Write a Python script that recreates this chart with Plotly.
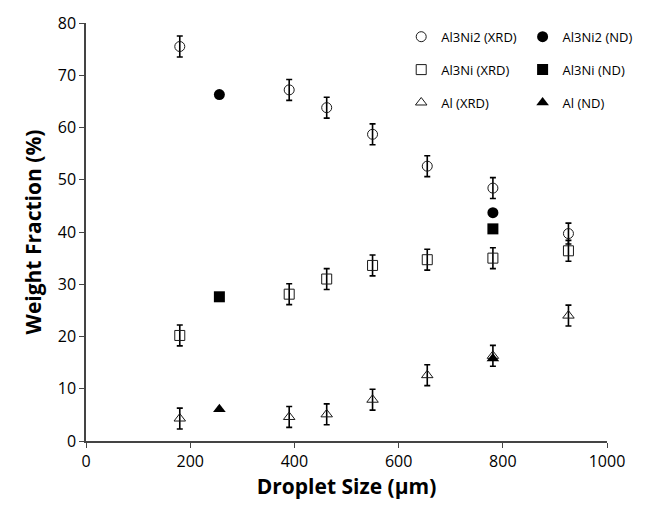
import plotly.graph_objects as go

# ---- data ----
size_xrd = [180, 390, 462, 550, 655, 781, 926]
al3ni2_xrd = [75.5, 67.2, 63.8, 58.7, 52.6, 48.4, 39.7]
al3ni_xrd = [20.2, 28.1, 31.0, 33.6, 34.7, 35.0, 36.4]
al_xrd = [4.3, 4.6, 5.1, 7.9, 12.6, 16.3, 24.0]
err_xrd = [2, 2, 2, 2, 2, 2, 2]

size_nd = [256, 781]
al3ni2_nd = [66.3, 43.7]
al3ni_nd = [27.6, 40.6]
al_nd = [6.1, 15.8]

x_ticks = [0, 200, 400, 600, 800, 1000]
y_ticks = [0, 10, 20, 30, 40, 50, 60, 70, 80]

FONT = "Open Sans"
INK = "#1a1a1a"

fig = go.Figure()

err_style = dict(type="data", visible=True, color="black", thickness=1.6, width=3)

xrd_series = [
    ("Al3Ni2 (XRD)", al3ni2_xrd, "circle-open", "g1"),
    ("Al3Ni (XRD)", al3ni_xrd, "square-open", "g2"),
    ("Al (XRD)", al_xrd, "triangle-up-open", "g3"),
]
nd_series = [
    ("Al3Ni2 (ND)", al3ni2_nd, "circle", "g4"),
    ("Al3Ni (ND)", al3ni_nd, "square", "g5"),
    ("Al (ND)", al_nd, "triangle-up", "g6"),
]

for name, vals, sym, grp in xrd_series:
    fig.add_trace(go.Scatter(
        x=size_xrd, y=vals, mode="markers", name=name, legendgroup=grp,
        legend="legend",
        marker=dict(symbol=sym, size=10, color=INK, line=dict(width=1, color=INK)),
        error_y=dict(array=err_xrd, **err_style),
    ))

for name, vals, sym, grp in nd_series:
    fig.add_trace(go.Scatter(
        x=size_nd, y=vals, mode="markers", name=name, legendgroup=grp,
        legend="legend2",
        marker=dict(symbol=sym, size=11, color="black", line=dict(width=0)),
    ))

leg_common = dict(
    font=dict(family=FONT, size=13, color="black"),
    bgcolor="rgba(0,0,0,0)", borderwidth=0,
    tracegroupgap=13, yanchor="top", xanchor="left",
    itemclick=False, itemdoubleclick=False,
)

fig.update_layout(
    width=650, height=507,
    margin=dict(l=86, r=33, t=16, b=64),
    paper_bgcolor="white", plot_bgcolor="white",
    font=dict(family=FONT, size=16, color="black"),
    showlegend=True,
    legend=dict(x=0.605, y=1.003, **leg_common),
    legend2=dict(x=0.838, y=1.003, **leg_common),
    xaxis=dict(
        range=[0, 1000], tickvals=x_ticks, ticktext=[str(v) for v in x_ticks],
        showgrid=False, zeroline=False, showline=True, linecolor="#444", linewidth=1.5,
        ticks="outside", ticklen=5, tickcolor="#444",
        tickfont=dict(family=FONT, size=16, color="black"),
        title=dict(text="<b>Droplet Size (µm)</b>", font=dict(family=FONT, size=21, color="black"), standoff=8),
    ),
    yaxis=dict(
        range=[0, 80], tickvals=y_ticks, ticktext=[str(v) for v in y_ticks],
        showgrid=False, zeroline=False, showline=True, linecolor="#444", linewidth=1.5,
        ticks="outside", ticklen=5, tickcolor="#444",
        tickfont=dict(family=FONT, size=16, color="black"),
        title=dict(text="<b>Weight Fraction (%)</b>", font=dict(family=FONT, size=21, color="black"), standoff=10),
    ),
)

fig.write_html("out.html")
